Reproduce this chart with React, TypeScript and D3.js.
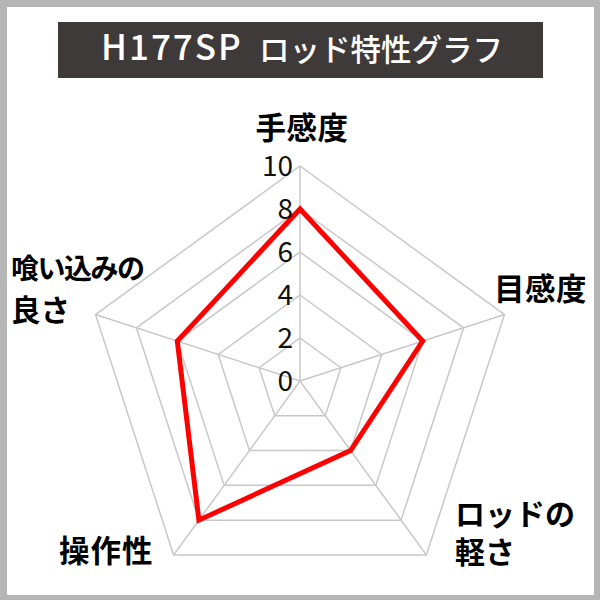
import React from "react";
import * as d3 from "d3";

const axes = ["手感度", "目感度", "ロッドの軽さ", "操作性", "喰い込みの良さ"];
const values = [8, 6, 4, 8, 6];
const levels = [2, 4, 6, 8, 10];
const tickLabels = [0, 2, 4, 6, 8, 10];
const titleModel = "H177SP";
const titleText = "ロッド特性グラフ";

const labelLines: string[][] = [["手感度"], ["目感度"], ["ロッドの", "軽さ"], ["操作性"], ["喰い込みの", "良さ"]];

export default function App() {
  const cx = 300, cy = 381, R = 215;
  const r = d3.scaleLinear().domain([0, 10]).range([0, R]);
  const angle = (i: number) => (i * 2 * Math.PI) / axes.length;
  const pt = (i: number, v: number): [number, number] => [
    cx + r(v) * Math.sin(angle(i)),
    cy - r(v) * Math.cos(angle(i)),
  ];
  const line = d3.line<[number, number]>().curve(d3.curveLinearClosed);
  const jp = '"Noto Sans CJK JP", "Noto Sans", sans-serif';

  // center y of first line, horizontal anchor, line height, letter spacing per line, font size per line
  const labelPos: { x: number; y: number; anchor: string; lh: number; ls: number[]; fs: number[] }[] = [
    { x: 302, y: 127, anchor: "middle", lh: 42, ls: [0.5], fs: [30.5] },
    { x: 494, y: 288, anchor: "start", lh: 42, ls: [0.5], fs: [30.5] },
    { x: 455, y: 514, anchor: "start", lh: 37.5, ls: [0, 0], fs: [30, 30] },
    { x: 59, y: 550, anchor: "start", lh: 42, ls: [1], fs: [30.5] },
    { x: 11, y: 268, anchor: "start", lh: 42, ls: [-1.5, 0], fs: [28, 29.5] },
  ];

  return (
    <svg width={600} height={600} style={{ position: "absolute", left: 0, top: 0 }} xmlns="http://www.w3.org/2000/svg">
      <rect x={0} y={0} width={600} height={600} fill="#b5b5b5" />
      <rect x={7} y={7} width={587} height={588} fill="#ffffff" />
      <rect x={58} y={22} width={485} height={56} fill="#3e3a39" />
      <text x={101} y={60} fill="#ffffff" fontFamily={jp} fontWeight={500}>
        <tspan fontSize={35} letterSpacing={2}>{titleModel}</tspan>
        <tspan x={259} y={61} fontSize={30.5} letterSpacing={0}>{titleText}</tspan>
      </text>
      <g stroke="#c8c8c8" strokeWidth={1.5} fill="none">
        {levels.map((lv) => (
          <path key={lv} d={line(axes.map((_, i) => pt(i, lv))) || ""} />
        ))}
        {axes.map((_, i) => {
          const [x, y] = pt(i, 10);
          return <line key={i} x1={cx} y1={cy} x2={x} y2={y} />;
        })}
      </g>
      <path d={line(values.map((v, i) => pt(i, v))) || ""} fill="none" stroke="#ff0000" strokeWidth={5} strokeLinejoin="miter" />
      {tickLabels.map((t) => (
        <text key={t} x={cx - 7} y={cy - r(t) + 28 * 0.36} fontFamily={jp} fontSize={28} fill="#111" textAnchor="end">
          {t}
        </text>
      ))}
      {labelLines.map((lines, i) => (
        <text key={axes[i]} fontFamily={jp} fontWeight={700} fill="#000" textAnchor={labelPos[i].anchor}>
          {lines.map((l, j) => {
            const fs = labelPos[i].fs[j];
            return (
              <tspan
                key={j}
                x={labelPos[i].x}
                y={labelPos[i].y + j * labelPos[i].lh + fs * 0.38}
                fontSize={fs}
                letterSpacing={labelPos[i].ls[j]}
              >
                {l}
              </tspan>
            );
          })}
        </text>
      ))}
    </svg>
  );
}
